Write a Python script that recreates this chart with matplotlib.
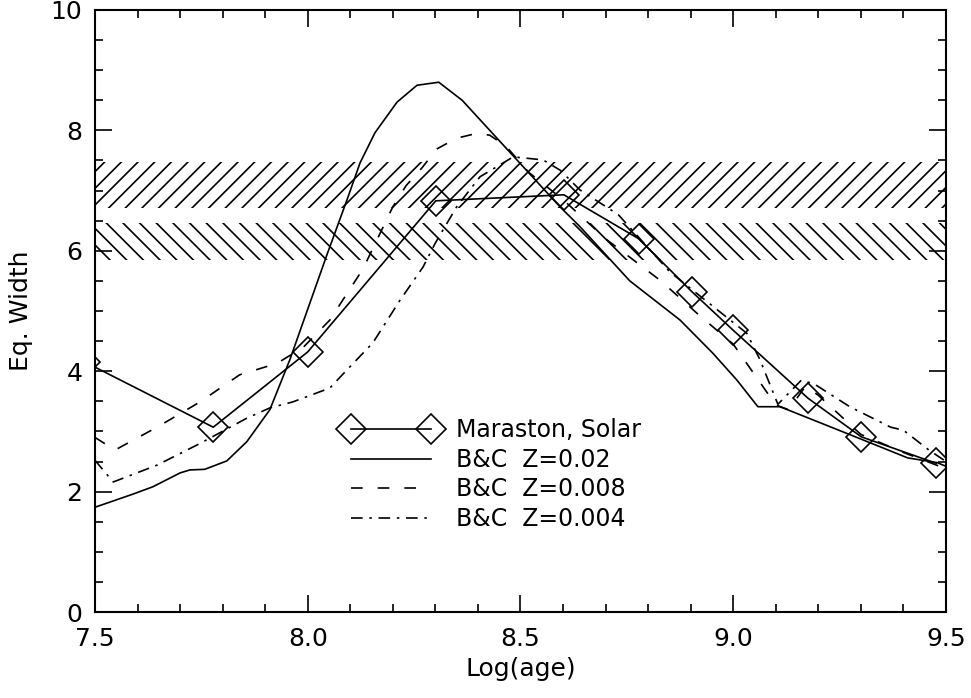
import numpy as np
import matplotlib
matplotlib.use("Agg")
import matplotlib.pyplot as plt

plt.rcParams['font.family'] = ['Liberation Sans Narrow', 'DejaVu Sans']
plt.rcParams['hatch.linewidth'] = 1.2
plt.rcParams['hatch.color'] = 'black'

# Maraston, solar metallicity
mar_age = [7.477, 7.778, 8.0, 8.301, 8.602, 8.778, 8.903, 9.0, 9.176, 9.301, 9.477]
mar_ew = [4.15, 3.07, 4.32, 6.83, 6.93, 6.20, 5.32, 4.68, 3.55, 2.91, 2.47]

# B&C Z=0.02
bc02_age = [7.5, 7.59, 7.636, 7.70, 7.723, 7.758, 7.81, 7.857, 7.911, 7.958, 8.045,
            8.092, 8.123, 8.158, 8.21, 8.257, 8.308, 8.363, 8.593, 8.64, 8.757,
            8.875, 8.952, 9.009, 9.058, 9.11, 9.28, 9.41, 9.48, 9.5]
bc02_ew = [1.74, 1.96, 2.08, 2.31, 2.36, 2.37, 2.51, 2.83, 3.36, 4.19, 5.93,
           6.84, 7.46, 7.96, 8.47, 8.75, 8.80, 8.50, 6.73, 6.40, 5.50,
           4.85, 4.30, 3.85, 3.41, 3.41, 2.93, 2.56, 2.48, 2.42]

# B&C Z=0.008
bc008_age = [7.5, 7.547, 7.646, 7.747, 7.84, 7.928, 7.99, 8.052, 8.13, 8.20, 8.231,
             8.27, 8.303, 8.35, 8.397, 8.428, 8.467, 8.52, 8.60, 8.70, 8.83, 8.92,
             9.0, 9.10, 9.13, 9.17, 9.2, 9.3, 9.4, 9.5]
bc008_ew = [2.9, 2.69, 3.07, 3.49, 3.94, 4.13, 4.40, 4.85, 5.70, 6.73, 7.08,
            7.39, 7.69, 7.87, 7.95, 7.92, 7.73, 7.30, 6.85, 6.20, 5.50, 4.93,
            4.45, 3.44, 3.36, 3.75, 3.60, 2.95, 2.65, 2.38]

# B&C Z=0.004
bc004_age = [7.5, 7.543, 7.646, 7.747, 7.857, 7.911, 7.965, 8.052, 8.092, 8.153, 8.217,
             8.271, 8.30, 8.35, 8.405, 8.483, 8.553, 8.593, 8.64, 8.73, 8.851, 8.952,
             9.032, 9.063, 9.105, 9.16, 9.19, 9.274, 9.37, 9.40, 9.46, 9.5]
bc004_ew = [2.52, 2.16, 2.44, 2.80, 3.22, 3.39, 3.49, 3.72, 4.02, 4.47, 5.18,
            5.73, 6.13, 6.73, 7.23, 7.56, 7.51, 7.34, 7.01, 6.60, 5.65, 5.08,
            4.63, 4.19, 3.45, 3.85, 3.79, 3.41, 3.07, 3.02, 2.69, 2.50]

# observed bands (hatched)
band1 = (6.71, 7.47)
band2 = (5.85, 6.46)

fig = plt.figure(figsize=(9.71, 6.98), dpi=100)
ax = fig.add_axes([0.0978, 0.1232, 0.8764, 0.8625])

xx = [7.5, 9.5]
ax.fill_between(xx, band1[0], band1[1], facecolor='none', edgecolor='black',
                hatch='//', linewidth=0)
ax.fill_between(xx, band2[0], band2[1], facecolor='none', edgecolor='black',
                hatch='\\\\', linewidth=0)

lw = 1.2
ax.plot(mar_age, mar_ew, color='black', lw=lw, marker='D', ms=15,
        mfc='none', mec='black', mew=lw, label='Maraston, Solar')
ax.plot(bc02_age, bc02_ew, color='black', lw=lw, label='B&C  Z=0.02')
ax.plot(bc008_age, bc008_ew, color='black', lw=lw, dashes=(7, 9),
        label='B&C  Z=0.008')
ax.plot(bc004_age, bc004_ew, color='black', lw=lw, dashes=(7, 4, 1.5, 4),
        label='B&C  Z=0.004')

ax.set_xlim(7.5, 9.5)
ax.set_ylim(0, 10)
ax.set_xticks([7.5, 8.0, 8.5, 9.0, 9.5])
ax.set_xticklabels(['7.5', '8.0', '8.5', '9.0', '9.5'])
ax.set_xticks(np.arange(7.5, 9.51, 0.1), minor=True)
ax.set_yticks([0, 2, 4, 6, 8, 10])
ax.set_yticks(np.arange(0, 10.01, 0.5), minor=True)
ax.tick_params(which='both', direction='in', top=True, right=True,
               labelsize=18, width=1.2)
ax.tick_params(which='major', length=12)
ax.tick_params(which='minor', length=6)
ax.tick_params(axis='x', pad=11)
ax.tick_params(axis='y', pad=9)
for s in ax.spines.values():
    s.set_linewidth(1.5)

ax.set_xlabel('Log(age)', fontsize=18, labelpad=4)
ax.set_ylabel('Eq. Width', fontsize=18, labelpad=13)

ax.legend(loc='upper left', bbox_to_anchor=(0.292, 0.322), frameon=False,
          numpoints=2, fontsize=17, handlelength=4.0, handletextpad=0.75,
          labelspacing=0.24, borderpad=0, borderaxespad=0)

fig.savefig('out.png', dpi=100)
